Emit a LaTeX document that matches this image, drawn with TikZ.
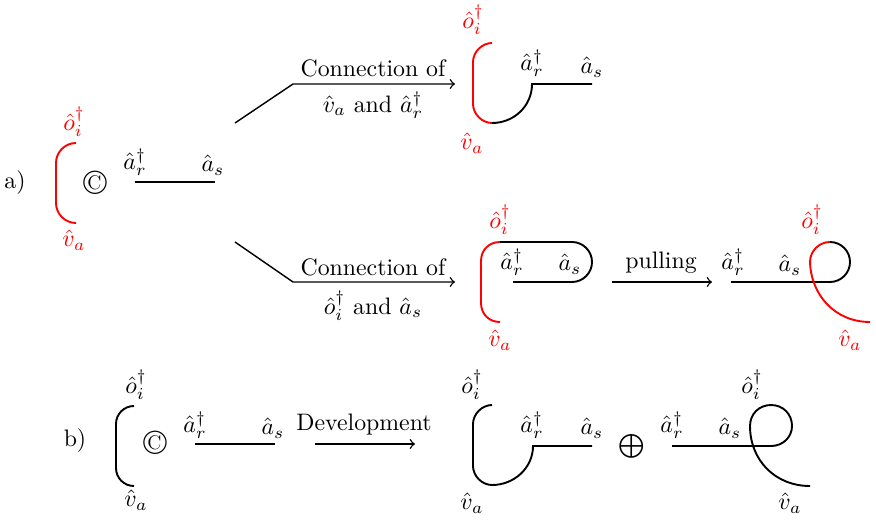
\documentclass[tikz,border=0pt]{standalone}
\begin{document}
\begin{tikzpicture}[x=0.42pt,y=-0.42pt,
  curve/.style={line width=0.8pt},
  conn/.style={line width=0.6pt},
  lab/.style={inner sep=0pt},
  redlab/.style={inner sep=0pt,text=red}]
\useasboundingbox (0,0) rectangle (876,521);

% ---------- a) ----------
\node[lab] (la) at (15,183) {a)};
\draw[curve,red] (76,143) .. controls (65,143) and (56,152) .. (56,163) -- (56,203) .. controls (56,214) and (65,223) .. (76,223);
\node[redlab] (a1o) at (74,122) {$\hat{o}_i^\dagger$};
\node[redlab] (a1v) at (74,240) {$\hat{v}_a$};
\node[lab] (a1c) at (95,183) {\Large\textcopyright};
\draw[curve] (135,182) -- (215,182);
\node[lab] (a1r) at (135,162) {$\hat{a}_r^\dagger$};
\node[lab] (a1s) at (213,165) {$\hat{a}_s$};

% upper branch
\coordinate (u0) at (235,123);
\coordinate (u1) at (293,84);
\coordinate (u2) at (455,84);
\draw[conn,->] (u0) -- (u1) -- (u2);
\node[lab] (ut) at (373,68) {Connection of};
\node[lab] (ub) at (373,105) {$\hat{v}_a$ and $\hat{a}_r^\dagger$};

% lower branch
\coordinate (d0) at (235,242);
\coordinate (d1) at (293,282);
\coordinate (d2) at (455,282);
\draw[conn,->] (d0) -- (d1) -- (d2);
\node[lab] (dt) at (373,267) {Connection of};
\node[lab] (db) at (373,306) {$\hat{o}_i^\dagger$ and $\hat{a}_s$};

% upper result
\draw[curve,red] (492,43) .. controls (482,43) and (473,52) .. (473,62) -- (473,104) .. controls (473,114) and (482,123) .. (492,123);
\draw[curve] (492,123) .. controls (514,123) and (532,106) .. (532,84) -- (592,84);
\node[redlab] (a2o) at (473,20) {$\hat{o}_i^\dagger$};
\node[redlab] (a2v) at (472,143) {$\hat{v}_a$};
\node[lab] (a2r) at (532,63) {$\hat{a}_r^\dagger$};
\node[lab] (a2s) at (592,67) {$\hat{a}_s$};

% lower middle result
\draw[curve,red] (500,322) .. controls (489,322) and (481,314) .. (481,303) -- (481,261) .. controls (481,250) and (489,242) .. (500,242);
\draw[curve] (500,242) -- (572,242) .. controls (583,242) and (592,251) .. (592,262) .. controls (592,273) and (583,282) .. (572,282) -- (513,282);
\node[redlab] (a3o) at (500,220) {$\hat{o}_i^\dagger$};
\node[redlab] (a3v) at (500,340) {$\hat{v}_a$};
\node[lab] (a3r) at (512,262) {$\hat{a}_r^\dagger$};
\node[lab] (a3s) at (570,264) {$\hat{a}_s$};

% pulling arrow
\coordinate (p0) at (612,282);
\coordinate (p1) at (712,282);
\draw[conn,->] (p0) -- (p1);
\node[lab] (pt) at (661,263) {pulling};

% right loop
\draw[curve] (731,282) -- (830,282) .. controls (841,282) and (850,273) .. (850,262) .. controls (850,251) and (841,242) .. (830,242);
\draw[curve,red] (830,242) .. controls (819,242) and (810,251) .. (810,262) .. controls (811,295) and (835,322) .. (870,322);
\node[redlab] (a4o) at (812,220) {$\hat{o}_i^\dagger$};
\node[redlab] (a4v) at (850,340) {$\hat{v}_a$};
\node[lab] (a4r) at (733,262) {$\hat{a}_r^\dagger$};
\node[lab] (a4s) at (790,265) {$\hat{a}_s$};

% ---------- b) ----------
\node[lab] (lb) at (75,441) {b)};
\draw[curve] (134,406) .. controls (124,406) and (116,414) .. (116,424) -- (116,468) .. controls (116,478) and (124,486) .. (134,486);
\node[lab] (b1o) at (136,385) {$\hat{o}_i^\dagger$};
\node[lab] (b1v) at (136,500) {$\hat{v}_a$};
\node[lab] (b1c) at (155,443) {\Large\textcopyright};
\draw[curve] (195,444) -- (275,444);
\node[lab] (b1r) at (195,425) {$\hat{a}_r^\dagger$};
\node[lab] (b1s) at (273,428) {$\hat{a}_s$};

\coordinate (e0) at (315,444);
\coordinate (e1) at (415,444);
\draw[conn,->] (e0) -- (e1);
\node[lab] (et) at (364,425) {Development};

% result 1
\draw[curve] (492,405) .. controls (482,405) and (473,414) .. (473,424) -- (473,466) .. controls (473,476) and (482,485) .. (492,485) .. controls (514,485) and (533,468) .. (533,446) -- (592,446);
\node[lab] (b2o) at (472,385) {$\hat{o}_i^\dagger$};
\node[lab] (b2v) at (472,503) {$\hat{v}_a$};
\node[lab] (b2r) at (532,425) {$\hat{a}_r^\dagger$};
\node[lab] (b2s) at (592,428) {$\hat{a}_s$};
\node[lab] (plus) at (632,446) {$\bigoplus$};

% result 2
\draw[curve] (672,446) -- (771,446) .. controls (783,446) and (792,437) .. (792,426) .. controls (792,414) and (783,405) .. (771,405) .. controls (759,405) and (750,414) .. (750,426) .. controls (750,460) and (775,486) .. (810,486);
\node[lab] (b3o) at (752,385) {$\hat{o}_i^\dagger$};
\node[lab] (b3v) at (790,503) {$\hat{v}_a$};
\node[lab] (b3r) at (672,425) {$\hat{a}_r^\dagger$};
\node[lab] (b3s) at (730,428) {$\hat{a}_s$};
\end{tikzpicture}
\end{document}
